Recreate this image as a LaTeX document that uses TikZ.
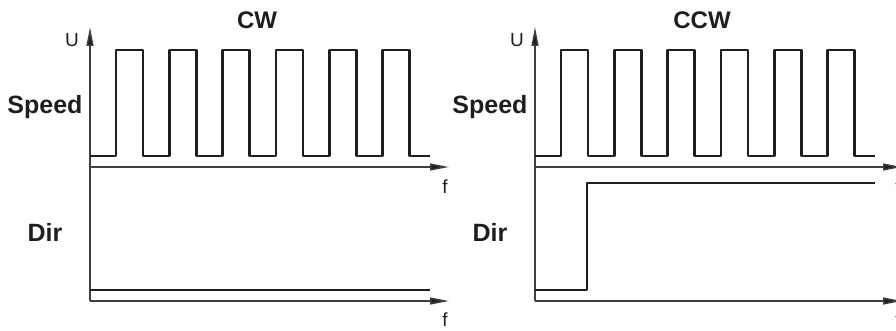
\documentclass[tikz,border=0pt]{standalone}
\usepackage{fontspec}
\setmainfont{Liberation Sans}
\usetikzlibrary{arrows.meta}
\definecolor{cLine}{HTML}{1E1E1E}
\tikzset{
  axis/.style  ={line width=1.4pt, draw=cLine!85, -{Triangle[length=19pt, width=7pt, fill=cLine]}},
  sig/.style   ={line width=2.8pt, draw=cLine, line join=round},
  ttl/.style   ={font=\fontsize{24}{28}\selectfont\bfseries, text=cLine, inner sep=0pt},
  lbl/.style   ={font=\fontsize{25}{30}\selectfont\bfseries, text=cLine, inner sep=0pt},
  unit/.style  ={font=\fontsize{19}{22}\selectfont, text=cLine, inner sep=0pt},
}

\begin{document}
\begin{tikzpicture}[x=1pt, y=1pt]
\clip (0,0) rectangle (896,330);

\foreach \dx/\ttl/\tip in {0/CW/449, 445/CCW/457}{
\begin{scope}[xshift=\dx pt]
  \coordinate (o) at (90,29);
  \coordinate (s) at (90,163);
  \node[ttl]  (title) at (257,310) {\ttl};
  \node[unit] (u)     at (72,290)  {U};
  \node[lbl]  (speed) at (45,223)  {Speed};
  \node[lbl]  (dir)   at (45,98)   {Dir};
  \node[unit] (fs)    at (\tip-4,143) {f};
  \node[unit] (fd)    at (\tip-4,10)  {f};
  \draw[axis] (o) -- (90,303);
  \draw[axis] (s) -- (\tip,163);
  \draw[axis] (o) -- (\tip,29);
  % pulse train
  \draw[sig] (90,174) \foreach \i in {0,...,5}{
      -- ({116+53.3*\i},174) -- ({116+53.3*\i},280)
      -- ({143+53.3*\i},280) -- ({143+53.3*\i},174)} -- (430,174);
\end{scope}
}

% direction levels
\draw[sig] (90,40) -- (430,40);
\draw[sig] (535,40) -- (587,40) -- (587,147) -- (875,147);
\end{tikzpicture}
\end{document}
